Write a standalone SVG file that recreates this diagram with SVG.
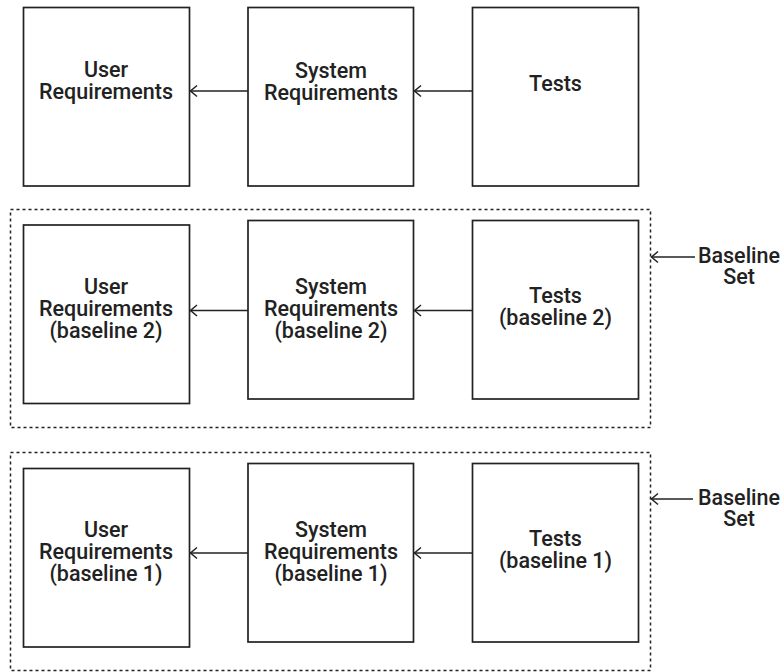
<svg xmlns="http://www.w3.org/2000/svg" width="783" height="672" viewBox="0 0 783 672">
<defs>
<marker id="open" markerUnits="userSpaceOnUse" viewBox="-8 -7 10 14" markerWidth="10" markerHeight="14" refX="0" refY="0" orient="auto" overflow="visible">
<path d="M-6.5,-5.5 L0,0 L-6.5,5.5" fill="none" stroke="#222" stroke-width="1.5"/>
</marker>
<style>
.box{fill:#fff;stroke:#222;stroke-width:1.7}
.set{fill:none;stroke:#222;stroke-width:1.5;stroke-dasharray:3 3}
.lbl{font-family:Roboto,"Liberation Sans",Arial,sans-serif;font-weight:500;font-size:21.5px;fill:#222;text-anchor:middle}
.conn line{stroke:#222;stroke-width:1.5;marker-end:url(#open)}
</style>
</defs>
<rect width="783" height="672" fill="#fff"/>

<g id="baseline-set-2"><rect class="set" x="10.5" y="209.5" width="640" height="218"/></g>
<g id="baseline-set-1"><rect class="set" x="10.5" y="452.5" width="640" height="218"/></g>

<g id="user-req"><rect class="box" x="23.5" y="7.5" width="166" height="178.5"/>
<text class="lbl" x="106" y="77">User</text><text class="lbl" x="106" y="99">Requirements</text></g>
<g id="sys-req"><rect class="box" x="248" y="7.5" width="165.5" height="178.5"/>
<text class="lbl" x="331" y="77.5">System</text><text class="lbl" x="331" y="99.5">Requirements</text></g>
<g id="tests"><rect class="box" x="472.5" y="7.5" width="166" height="178.5"/>
<text class="lbl" x="555.5" y="91">Tests</text></g>

<g id="user-req-b2"><rect class="box" x="23.5" y="225" width="166" height="178.5"/>
<text class="lbl" x="106" y="294">User</text><text class="lbl" x="106" y="316">Requirements</text><text class="lbl" x="106" y="338">(baseline 2)</text></g>
<g id="sys-req-b2"><rect class="box" x="248" y="220.5" width="165.5" height="178.5"/>
<text class="lbl" x="331" y="294">System</text><text class="lbl" x="331" y="316">Requirements</text><text class="lbl" x="331" y="338">(baseline 2)</text></g>
<g id="tests-b2"><rect class="box" x="472.5" y="220.5" width="166" height="178.5"/>
<text class="lbl" x="555.5" y="303">Tests</text><text class="lbl" x="555.5" y="325">(baseline 2)</text></g>

<g id="user-req-b1"><rect class="box" x="23.5" y="468.5" width="166" height="178.5"/>
<text class="lbl" x="106" y="537">User</text><text class="lbl" x="106" y="559">Requirements</text><text class="lbl" x="106" y="581">(baseline 1)</text></g>
<g id="sys-req-b1"><rect class="box" x="248" y="463.5" width="165.5" height="178.5"/>
<text class="lbl" x="331" y="537">System</text><text class="lbl" x="331" y="559">Requirements</text><text class="lbl" x="331" y="581">(baseline 1)</text></g>
<g id="tests-b1"><rect class="box" x="472.5" y="463.5" width="166" height="178.5"/>
<text class="lbl" x="555.5" y="546">Tests</text><text class="lbl" x="555.5" y="568">(baseline 1)</text></g>

<g id="label-set-2"><text class="lbl" x="739" y="263">Baseline</text><text class="lbl" x="739" y="284">Set</text></g>
<g id="label-set-1"><text class="lbl" x="739" y="504.5">Baseline</text><text class="lbl" x="739" y="526">Set</text></g>

<g id="connectors" class="conn">
<line x1="472.5" y1="91" x2="414.5" y2="91"/>
<line x1="248" y1="91" x2="190.5" y2="91"/>
<line x1="472.5" y1="310.5" x2="414.5" y2="310.5"/>
<line x1="248" y1="310.5" x2="190.5" y2="310.5"/>
<line x1="472.5" y1="553" x2="414.5" y2="553"/>
<line x1="248" y1="553" x2="190.5" y2="553"/>
<line x1="695" y1="257" x2="651.5" y2="257"/>
<line x1="693" y1="499" x2="651.5" y2="499"/>
</g>
</svg>
